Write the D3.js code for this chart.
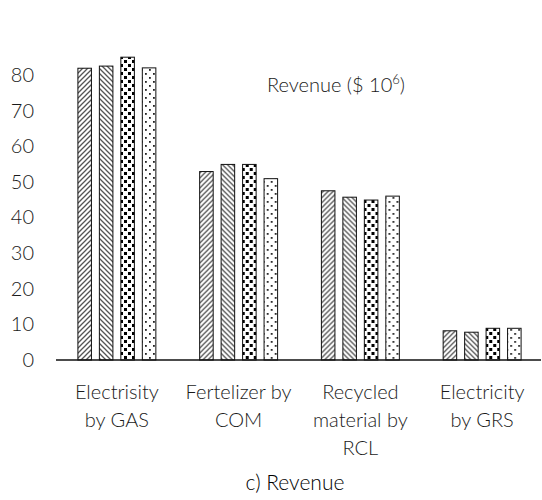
<!DOCTYPE html>
<html>
<head>
<meta charset="utf-8">
<script src="https://cdn.jsdelivr.net/npm/d3@7"></script>
<style>
  body { margin: 0; background: #fff; }
  text { font-family: Lato, "Open Sans", sans-serif; font-weight: 300; fill: #1a1a1a; }
</style>
</head>
<body>
<div id="chart"></div>
<script>
// data
var categories = ["Electrisity by GAS", "Fertelizer by COM", "Recycled material by RCL", "Electricity by GRS"]
var catLines = [["Electrisity", "by GAS"], ["Fertelizer by", "COM"], ["Recycled", "material by", "RCL"], ["Electricity", "by GRS"]]
var series = ["s1", "s2", "s3", "s4"]
var s1 = [81.9, 52.9, 47.5, 8.2]
var s2 = [82.5, 54.9, 45.7, 7.8]
var s3 = [85.0, 54.9, 44.9, 8.9]
var s4 = [82.0, 50.9, 46.0, 8.9]
var yTicks = [0, 10, 20, 30, 40, 50, 60, 70, 80]

var width = 542, height = 500
var svg = d3.select("#chart").append("svg")
    .attr("width", width).attr("height", height)

// fill patterns
var defs = svg.append("defs")
var p1 = defs.append("pattern").attr("id", "pat_s1")
    .attr("patternUnits", "userSpaceOnUse").attr("width", 5).attr("height", 5)
p1.append("rect").attr("width", 5).attr("height", 5).attr("fill", "white")
p1.append("path").attr("d", "M-1,1 l2,-2 M0,5 l5,-5 M4,6 l2,-2")
    .attr("stroke", "#555").attr("stroke-width", 1.3)

var p2 = defs.append("pattern").attr("id", "pat_s2")
    .attr("patternUnits", "userSpaceOnUse").attr("width", 5).attr("height", 5)
p2.append("rect").attr("width", 5).attr("height", 5).attr("fill", "white")
p2.append("path").attr("d", "M-1,4 l2,2 M0,0 l5,5 M4,-1 l2,2")
    .attr("stroke", "#555").attr("stroke-width", 1.3)

var p3 = defs.append("pattern").attr("id", "pat_s3")
    .attr("patternUnits", "userSpaceOnUse").attr("width", 8).attr("height", 8)
p3.append("rect").attr("width", 8).attr("height", 8).attr("fill", "white")
p3.append("rect").attr("x", 0).attr("y", 0).attr("width", 3).attr("height", 3).attr("fill", "#000")
p3.append("rect").attr("x", 4).attr("y", 4).attr("width", 3).attr("height", 3).attr("fill", "#000")

var p4 = defs.append("pattern").attr("id", "pat_s4")
    .attr("patternUnits", "userSpaceOnUse").attr("width", 8).attr("height", 8)
p4.append("rect").attr("width", 8).attr("height", 8).attr("fill", "white")
p4.append("rect").attr("x", 1).attr("y", 1).attr("width", 1.8).attr("height", 1.8).attr("fill", "#222")
p4.append("rect").attr("x", 5).attr("y", 5).attr("width", 1.8).attr("height", 1.8).attr("fill", "#222")

var data = categories.map(function(c, i) {
    return {cat: c, vals: [s1[i], s2[i], s3[i], s4[i]]}
})

// scales
var x0 = d3.scaleBand().domain(categories).range([56, 543]).padding(0)
var x1 = d3.scaleBand().domain(series).range([0, x0.bandwidth()])
    .paddingInner(0.37).paddingOuter(1.02)
var y = d3.scaleLinear().domain([0, 80]).range([360, 75])

// y tick labels (no axis line)
var yAxis = svg.append("g")
    .attr("transform", "translate(34,0)")
    .call(d3.axisLeft(y).tickValues(yTicks).tickSize(0).tickPadding(0))
yAxis.select(".domain").remove()
yAxis.selectAll("text").style("font-size", "20px")
    .style("font-family", "Lato, 'Open Sans', sans-serif").style("font-weight", 300)
    .attr("fill", "#1a1a1a")

// bars
var groups = svg.selectAll(".grp").data(data).enter().append("g")
    .attr("transform", function(d) { return "translate(" + x0(d.cat) + ",0)" })
groups.selectAll("rect")
    .data(function(d) { return d.vals.map(function(v, j) { return {s: series[j], v: v} }) })
    .enter().append("rect")
    .attr("x", function(d) { return x1(d.s) })
    .attr("y", function(d) { return y(d.v) })
    .attr("width", x1.bandwidth())
    .attr("height", function(d) { return y(0) - y(d.v) })
    .attr("fill", function(d) { return "url(#pat_" + d.s + ")" })
    .attr("stroke", "#111").attr("stroke-width", 1)

// x axis line
svg.append("line")
    .attr("x1", 56).attr("x2", 541)
    .attr("y1", y(0)).attr("y2", y(0))
    .attr("stroke", "#111").attr("stroke-width", 1.3)

// category labels
svg.selectAll(".catlab").data(categories).enter().append("text")
    .attr("text-anchor", "middle")
    .style("font-size", "20px")
    .attr("x", function(d) { return x0(d) + x0.bandwidth() / 2 })
    .attr("y", 399)
    .each(function(d, i) {
        var t = d3.select(this)
        catLines[i].forEach(function(l, k) {
            t.append("tspan").attr("x", x0(d) + x0.bandwidth() / 2)
                .attr("dy", k == 0 ? 0 : 28).text(l)
        })
    })

// series label in plot
var lab = svg.append("text").attr("x", 267).attr("y", 92).style("font-size", "20px")
lab.append("tspan").text("Revenue ($ 10")
lab.append("tspan").attr("dy", -8).style("font-size", "13px").text("6")
lab.append("tspan").attr("dy", 8).text(")")

// title
svg.append("text").attr("x", 295).attr("y", 490)
    .attr("text-anchor", "middle").style("font-size", "21px")
    .style("fill", "#000")
    .text("c) Revenue")
</script>
</body>
</html>
